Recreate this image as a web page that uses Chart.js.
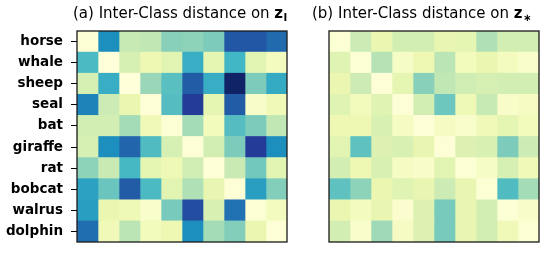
<!DOCTYPE html>
<html>
<head>
<meta charset="utf-8">
<script src="https://cdn.jsdelivr.net/npm/chart.js@4.4.1/dist/chart.umd.min.js"></script>
<style>
  html, body { margin: 0; padding: 0; background: #fff; }
  #wrap { position: relative; width: 550px; height: 253px; }
  #wrap canvas { position: absolute; top: 0; }
  #chartA { left: 0; }
  #chartB { left: 300px; }
</style>
</head>
<body>
<div id="wrap">
  <canvas id="chartA" width="300" height="253"></canvas>
  <canvas id="chartB" width="250" height="253"></canvas>
</div>
<script>
const classes = ["horse", "whale", "sheep", "seal", "bat", "giraffe", "rat", "bobcat", "walrus", "dolphin"];

// (a) distances on z_I, rows/cols in class order
const distI = [
  [0.02, 0.63, 0.25, 0.26, 0.36, 0.35, 0.38, 0.77, 0.77, 0.72],
  [0.48, 0.00, 0.20, 0.12, 0.16, 0.53, 0.15, 0.50, 0.16, 0.08],
  [0.20, 0.53, 0.00, 0.33, 0.45, 0.76, 0.53, 0.97, 0.38, 0.54],
  [0.66, 0.23, 0.13, 0.01, 0.46, 0.85, 0.15, 0.76, 0.05, 0.10],
  [0.21, 0.21, 0.31, 0.10, 0.02, 0.31, 0.09, 0.46, 0.38, 0.26],
  [0.20, 0.63, 0.73, 0.47, 0.20, 0.01, 0.21, 0.38, 0.85, 0.63],
  [0.35, 0.24, 0.49, 0.15, 0.11, 0.22, 0.01, 0.24, 0.40, 0.16],
  [0.57, 0.42, 0.76, 0.48, 0.16, 0.29, 0.14, 0.01, 0.58, 0.37],
  [0.58, 0.13, 0.11, 0.04, 0.39, 0.80, 0.19, 0.70, 0.02, 0.08],
  [0.71, 0.10, 0.27, 0.09, 0.12, 0.63, 0.31, 0.37, 0.13, 0.01]
];

// (b) distances on z_*
const distStar = [
  [0.02, 0.23, 0.13, 0.21, 0.21, 0.14, 0.15, 0.29, 0.21, 0.21],
  [0.17, 0.02, 0.28, 0.06, 0.12, 0.27, 0.09, 0.13, 0.08, 0.04],
  [0.13, 0.23, 0.01, 0.15, 0.36, 0.26, 0.22, 0.20, 0.21, 0.21],
  [0.17, 0.09, 0.17, 0.01, 0.21, 0.41, 0.11, 0.25, 0.05, 0.07],
  [0.12, 0.12, 0.19, 0.07, 0.01, 0.07, 0.04, 0.10, 0.15, 0.09],
  [0.16, 0.44, 0.18, 0.19, 0.14, 0.01, 0.18, 0.19, 0.38, 0.23],
  [0.21, 0.12, 0.19, 0.07, 0.05, 0.16, 0.02, 0.06, 0.20, 0.10],
  [0.44, 0.35, 0.13, 0.17, 0.14, 0.23, 0.14, 0.02, 0.47, 0.31],
  [0.13, 0.08, 0.14, 0.03, 0.18, 0.39, 0.14, 0.21, 0.02, 0.05],
  [0.21, 0.04, 0.32, 0.07, 0.18, 0.39, 0.14, 0.21, 0.10, 0.02]
];

// matplotlib YlGnBu
const ylgnbu = ["#ffffd9", "#edf8b1", "#c7e9b4", "#7fcdbb", "#41b6c4", "#1d91c0", "#225ea8", "#253494", "#081d58"];

function hexToRgb(h) {
  return [parseInt(h.slice(1, 3), 16), parseInt(h.slice(3, 5), 16), parseInt(h.slice(5, 7), 16)];
}

function cmap(v) {
  v = Math.max(0, Math.min(1, v));
  const pos = v * (ylgnbu.length - 1);
  const i = Math.min(Math.floor(pos), ylgnbu.length - 2);
  const t = pos - i;
  const a = hexToRgb(ylgnbu[i]), b = hexToRgb(ylgnbu[i + 1]);
  const c = a.map((x, k) => Math.round(x + (b[k] - x) * t));
  return `rgb(${c[0]},${c[1]},${c[2]})`;
}

// one stacked dataset per column, each cell is one unit wide
function cellDatasets(matrix) {
  return classes.map((_, col) => ({
    label: classes[col],
    data: classes.map(() => 1),
    backgroundColor: matrix.map(row => cmap(row[col])),
    borderWidth: 0,
    categoryPercentage: 1,
    barPercentage: 1
  }));
}

const FONT = "'DejaVu Sans', sans-serif";

function titlePlugin(prefix, x, sub) {
  return {
    id: "mathTitle",
    afterDraw(chart) {
      const ctx = chart.ctx;
      ctx.save();
      ctx.fillStyle = "#000";
      ctx.textBaseline = "alphabetic";
      ctx.textAlign = "left";
      const y = 18;
      ctx.font = `15px ${FONT}`;
      ctx.fillText(prefix, x, y);
      let cx = x + ctx.measureText(prefix).width;
      ctx.font = `bold 15px ${FONT}`;
      ctx.fillText("z", cx, y);
      cx += ctx.measureText("z").width + 0.5;
      ctx.font = `bold 10px ${FONT}`;
      ctx.fillText(sub, cx, y + 3);
      ctx.restore();
    }
  };
}

const framePlugin = {
  id: "frame",
  afterDatasetsDraw(chart) {
    const a = chart.chartArea;
    const ctx = chart.ctx;
    ctx.save();
    ctx.strokeStyle = "#1a1a1a";
    ctx.lineWidth = 1.3;
    ctx.strokeRect(a.left, a.top, a.right - a.left, a.bottom - a.top);
    ctx.restore();
  }
};

function makeChart(id, matrix, showLabels, pad, title) {
  return new Chart(document.getElementById(id), {
    type: "bar",
    data: { labels: classes, datasets: cellDatasets(matrix) },
    options: {
      indexAxis: "y",
      responsive: false,
      animation: false,
      layout: { padding: pad },
      plugins: { legend: { display: false }, tooltip: { enabled: false }, title: { display: false } },
      scales: {
        x: { stacked: true, min: 0, max: 10, display: false },
        y: {
          stacked: true,
          display: showLabels,
          afterFit: axis => {
            if (showLabels) axis.width = 77;
            axis.paddingTop = 0;
            axis.paddingBottom = 0;
          },
          border: { display: false },
          grid: { offset: false, drawOnChartArea: false, drawTicks: true, tickLength: 6, color: "#000", lineWidth: 1 },
          ticks: { color: "#000", padding: 8, font: { family: FONT, size: 13.5, weight: "bold" } }
        }
      }
    },
    plugins: [framePlugin, title]
  });
}

makeChart("chartA", distI, true, { left: 0, right: 13, top: 31, bottom: 11 },
  titlePlugin("(a) Inter-Class distance on ", 73, "I"));
makeChart("chartB", distStar, false, { left: 29, right: 11, top: 31, bottom: 11 },
  titlePlugin("(b) Inter-Class distance on ", 12, "\u2217"));
</script>
</body>
</html>
